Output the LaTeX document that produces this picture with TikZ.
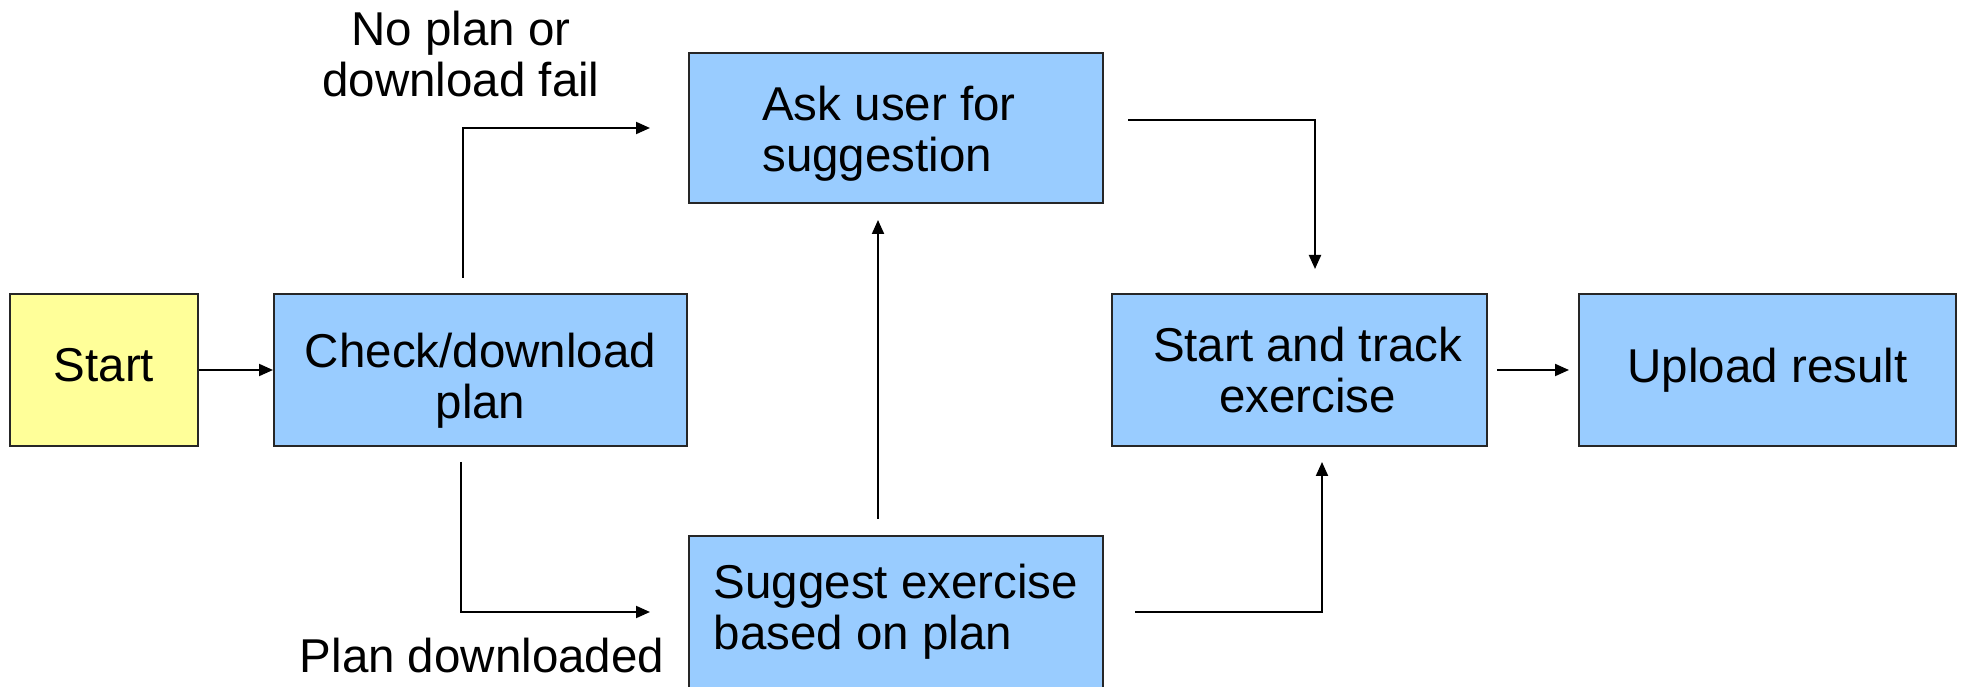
\documentclass[tikz,border=0pt]{standalone}
\usepackage{fontspec}
\setmainfont{Liberation Sans}
\usetikzlibrary{arrows.meta}
\definecolor{boxblue}{HTML}{99CCFF}
\definecolor{boxyellow}{HTML}{FFFF99}
\begin{document}
\begin{tikzpicture}[x=1pt,y=1pt,
  box/.style={draw=black!85, line width=2pt, fill=boxblue, inner sep=0pt,
    font=\fontsize{47.5}{51}\selectfont, align=center},
  lbl/.style={inner sep=0pt, font=\fontsize{47.5}{51}\selectfont, align=center},
  arr/.style={line width=2pt, -{Triangle[length=14pt,width=12pt]}}]
\useasboundingbox (0,0) rectangle (1963,686);
\node[box, fill=boxyellow, minimum width=188, minimum height=152] (start) at (104,316) {\rule[-10pt]{0pt}{10pt}Start};
\node[box, minimum width=413, minimum height=152] (check) at (480.5,316) {\rule{0pt}{55pt}Check/download\\plan};
\node[box, align=left, minimum width=414, minimum height=150] (ask) at (896,558) {\rule{0pt}{45pt}Ask user for\hspace*{14pt}\\suggestion};
\node[box, align=left, minimum width=414, minimum height=152] (suggest) at (896,74) {Suggest exercise\\based on plan};
\node[box, minimum width=375, minimum height=152] (track) at (1299.5,316) {\hspace*{16pt}Start and track\\\hspace*{16pt}exercise};
\node[box, minimum width=377, minimum height=152] (upload) at (1767.5,316) {Upload result};
\node[lbl] (nofail) at (461,632) {No plan or\\download fail};
\node[lbl] (plandl) at (482,30) {Plan downloaded};
\draw[arr] (start) -- (check);
\draw[arr, shorten <=15pt, shorten >=38pt] ([xshift=-17.5pt]check.north) |- (ask.west);
\draw[arr, shorten <=15pt, shorten >=38pt] ([xshift=-19.5pt]check.south) |- (suggest.west);
\draw[arr, shorten <=16pt, shorten >=16pt] ([xshift=-18pt]suggest.north) -- ([xshift=-18pt]ask.south);
\draw[arr, shorten <=24pt, shorten >=24pt] ([yshift=8pt]ask.east) -| ([xshift=15.5pt]track.north);
\draw[arr, shorten <=31pt, shorten >=15pt] (suggest.east) -| ([xshift=22.5pt]track.south);
\draw[arr, shorten <=9pt, shorten >=9pt] (track) -- (upload);
\end{tikzpicture}
\end{document}
